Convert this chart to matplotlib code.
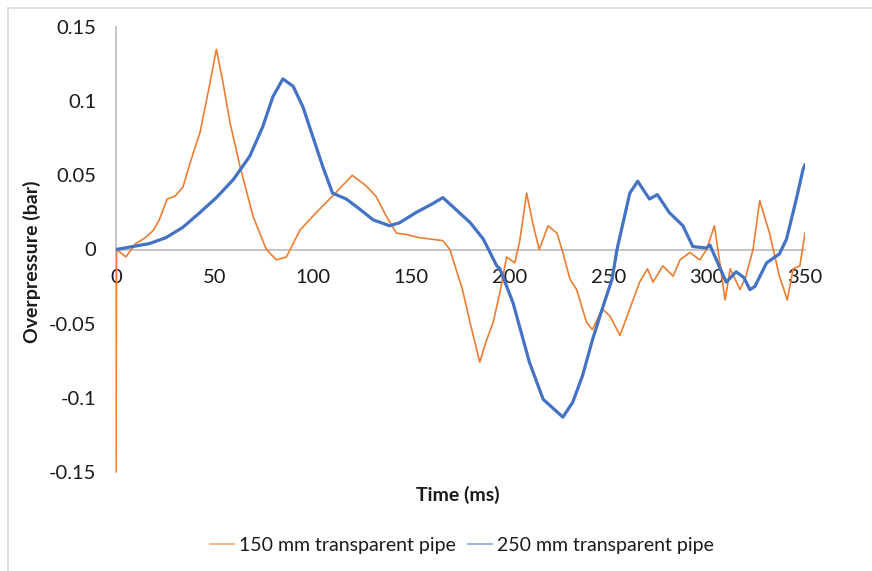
import matplotlib
matplotlib.use("Agg")
import matplotlib.pyplot as plt
from matplotlib.lines import Line2D

# ---- data ----
t_150 = [0, 0.3, 5, 10, 15, 19, 22, 26, 30, 34, 38, 42.7, 47.7, 51, 54, 58, 63, 69.7, 76.4,
         81.5, 86.6, 93.4, 101.8, 110, 115, 120, 124, 127, 132, 137.5, 142.5, 148, 154, 160,
         166, 169.6, 176, 180, 184.8, 188, 191.6, 195, 198.4, 202.6, 205, 208.6, 212, 215,
         219.5, 224, 227, 230.6, 234, 239, 242, 247, 251, 256, 261, 266, 270, 272.8, 277.8,
         283, 286.5, 291.5, 296.6, 300, 304, 307.7, 309.4, 312, 317, 320, 323.6, 327, 332,
         337, 341, 344, 347.4, 350]
p_150 = [-0.15, 0.0, -0.005, 0.004, 0.008, 0.013, 0.02, 0.034, 0.036, 0.042, 0.06, 0.079, 0.112,
         0.135, 0.115, 0.085, 0.056, 0.022, 0.0, -0.007, -0.005, 0.013, 0.025, 0.036, 0.043,
         0.05, 0.046, 0.043, 0.036, 0.022, 0.011, 0.01, 0.008, 0.007, 0.006, 0.0, -0.027,
         -0.05, -0.076, -0.062, -0.049, -0.029, -0.005, -0.009, 0.005, 0.038, 0.016, 0.0,
         0.016, 0.011, -0.002, -0.02, -0.027, -0.049, -0.054, -0.04, -0.045, -0.058, -0.04,
         -0.022, -0.013, -0.022, -0.011, -0.018, -0.007, -0.002, -0.007, 0.0, 0.016, -0.018,
         -0.034, -0.013, -0.027, -0.018, 0.0, 0.033, 0.011, -0.018, -0.034, -0.013, -0.011,
         0.011]

t_250 = [0, 8.6, 17, 25.4, 34, 42.7, 51, 59.5, 68, 74.6, 79.7, 84.8, 90, 95, 100, 105, 110,
         117, 124, 130.6, 139, 144, 152.5, 161, 166, 171, 180, 186.6, 193.4, 195, 201.7, 210,
         217, 222, 227, 232, 237, 242, 247.5, 252, 254.5, 261, 265, 271, 275, 281, 288, 293,
         300, 301.7, 306, 310, 315, 319, 322, 324.5, 330.5, 337, 340.6, 345.6, 349, 350]
p_250 = [0.0, 0.002, 0.004, 0.008, 0.015, 0.025, 0.035, 0.047, 0.063, 0.083, 0.103, 0.115,
         0.11, 0.096, 0.076, 0.056, 0.038, 0.034, 0.027, 0.02, 0.016, 0.018, 0.025, 0.031,
         0.035, 0.029, 0.018, 0.007, -0.011, -0.013, -0.036, -0.076, -0.101, -0.107, -0.113,
         -0.103, -0.085, -0.061, -0.038, -0.02, 0.0, 0.038, 0.046, 0.034, 0.037, 0.025, 0.016,
         0.002, 0.001, 0.003, -0.01, -0.022, -0.015, -0.019, -0.027, -0.025, -0.009, -0.003,
         0.007, 0.034, 0.054, 0.057]

label_150 = "150 mm transparent pipe"
label_250 = "250 mm transparent pipe"
x_ticks = [0, 50, 100, 150, 200, 250, 300, 350]
y_ticks = [-0.15, -0.1, -0.05, 0, 0.05, 0.1, 0.15]
y_ticklabels = ["-0.15", "-0.1", "-0.05", "0", "0.05", "0.1", "0.15"]

ORANGE = "#ED7D31"
BLUE = "#4472C4"
AXIS = "#BFBFBF"
TXT = "#1a1a1a"

plt.rcParams['font.family'] = ['Lato', 'DejaVu Sans']

fig = plt.figure(figsize=(8.72, 5.71), dpi=100)
ax = fig.add_axes([116/872, 1-472/571, (805-116)/872, (472-27)/571])

ax.plot(t_150, p_150, color=ORANGE, lw=1.2, label=label_150, zorder=3)
ax.plot(t_250, p_250, color=BLUE, lw=2.3, label=label_250, zorder=4)

ax.set_xlim(0, 350)
ax.set_ylim(-0.15, 0.15)
ax.set_xticks(x_ticks)
ax.set_xticklabels([str(v) for v in x_ticks])
ax.set_yticks(y_ticks)
ax.set_yticklabels(y_ticklabels)

for s in ['top', 'right']:
    ax.spines[s].set_visible(False)
ax.spines['bottom'].set_position(('data', 0))
ax.spines['left'].set_position(('data', 0))
for s in ['bottom', 'left']:
    ax.spines[s].set_color(AXIS)
    ax.spines[s].set_linewidth(1.3)
    ax.spines[s].set_zorder(1)
ax.tick_params(axis='both', length=0, labelsize=14.5, colors=TXT)
ax.tick_params(axis='x', pad=14)
ax.tick_params(axis='y', pad=14)

fig.text(458/872, 1-495/571, "Time (ms)", ha='center', va='center',
         fontsize=14, fontweight='bold', color=TXT)
fig.text(32/872, 1-262/571, "Overpressure (bar)", ha='center', va='center',
         rotation=90, fontsize=14, fontweight='bold', color=TXT)

handles = [Line2D([], [], color=ORANGE, lw=1.3, alpha=0.6),
           Line2D([], [], color=BLUE, lw=1.3, alpha=0.6)]
fig.legend(handles, [label_150, label_250], loc='center', bbox_to_anchor=(462/872, 1-545/571),
           ncol=2, frameon=False, fontsize=14, handlelength=1.25, handletextpad=0.25,
           columnspacing=0.6, labelcolor=TXT, borderaxespad=0, borderpad=0)

# chart-area border (top and left visible)
fig.add_artist(Line2D([8/872, 1], [1-8/571, 1-8/571], transform=fig.transFigure,
                      color='#D9D9D9', lw=1.2))
fig.add_artist(Line2D([8/872, 8/872], [0, 1-8/571], transform=fig.transFigure,
                      color='#D9D9D9', lw=1.2))

fig.savefig("out.png", dpi=100)
